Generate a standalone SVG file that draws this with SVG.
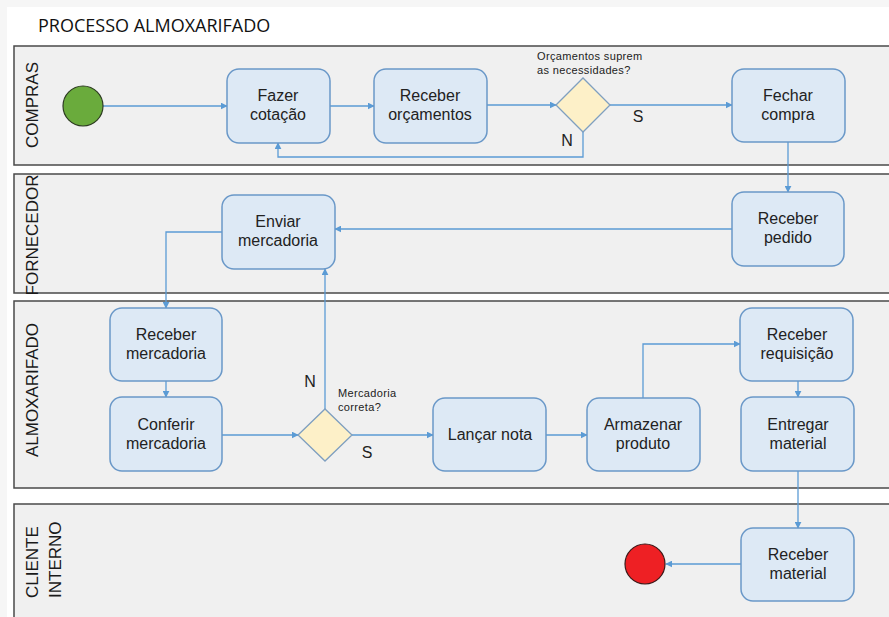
<svg xmlns="http://www.w3.org/2000/svg" width="889" height="617" viewBox="0 0 889 617">
  <style>
    .lane { fill: #f0f0f0; stroke: #4a4a4a; stroke-width: 1.5; }
    .lane-label { font-family: "Liberation Sans", Arial, sans-serif; font-size: 17px; fill: #1a1a1a; }
    .task rect { fill: #dde9f5; stroke: #6a98c8; stroke-width: 1.5; }
    .task text { font-family: "Liberation Sans", Arial, sans-serif; font-size: 16px; fill: #222; text-anchor: middle; }
    .gate polygon { fill: #fdf0c8; stroke: #7f9fc0; stroke-width: 1.3; }
    .note { font-family: "Liberation Sans", Arial, sans-serif; font-size: 11px; letter-spacing: 0.35px; fill: #222; }
    .flag { font-family: "Liberation Sans", Arial, sans-serif; font-size: 16px; fill: #222; text-anchor: middle; }
    .flow { fill: none; stroke: #5b9bd5; stroke-width: 1.3; marker-end: url(#arrow); }
  </style>
  <defs>
    <marker id="arrow" viewBox="0 0 10 10" refX="9" refY="5" markerWidth="7" markerHeight="7" orient="auto" markerUnits="userSpaceOnUse">
      <path d="M0,0 L10,5 L0,10 z" fill="#5b9bd5"/>
    </marker>
  </defs>

  <!-- page -->
  <rect x="0" y="0" width="889" height="617" fill="#f6f6f6"/>
  <rect x="7" y="7" width="882" height="610" fill="#ffffff"/>
  <text x="38" y="32" font-family="'Open Sans', 'Liberation Sans', sans-serif" font-size="18" fill="#111">PROCESSO ALMOXARIFADO</text>

  <!-- swimlanes -->
  <g id="lane-compras">
    <rect class="lane" x="14" y="46" width="880" height="119"/>
    <text class="lane-label" transform="translate(38,105) rotate(-90)" text-anchor="middle">COMPRAS</text>
  </g>
  <g id="lane-fornecedor">
    <rect class="lane" x="14" y="174" width="880" height="119"/>
    <text class="lane-label" transform="translate(38,235) rotate(-90)" text-anchor="middle">FORNECEDOR</text>
  </g>
  <g id="lane-almoxarifado">
    <rect class="lane" x="14" y="301" width="880" height="187"/>
    <text class="lane-label" transform="translate(38,390) rotate(-90)" text-anchor="middle">ALMOXARIFADO</text>
  </g>
  <g id="lane-cliente">
    <rect class="lane" x="14" y="504" width="880" height="130"/>
    <text class="lane-label" transform="translate(38,598) rotate(-90)">CLIENTE</text>
    <text class="lane-label" transform="translate(61,598) rotate(-90)">INTERNO</text>
  </g>

  <!-- connectors -->
  <g id="connectors">
    <path class="flow" d="M103,106 H227"/>
    <path class="flow" d="M330,106 H374"/>
    <path class="flow" d="M487,105 H556"/>
    <path class="flow" d="M610,105 H732"/>
    <path class="flow" d="M583,132 V157 H278 V143"/>
    <path class="flow" d="M788,142 V192"/>
    <path class="flow" d="M732,229 H335"/>
    <path class="flow" d="M222,232 H166 V308"/>
    <path class="flow" d="M166,381 V397"/>
    <path class="flow" d="M222,435 H298"/>
    <path class="flow" d="M325,409 V269"/>
    <path class="flow" d="M352,435 H433"/>
    <path class="flow" d="M546,435 H587"/>
    <path class="flow" d="M643,398 V344 H740"/>
    <path class="flow" d="M798,381 V397"/>
    <path class="flow" d="M798,471 V528"/>
    <path class="flow" d="M741,564 H666"/>
  </g>

  <!-- events -->
  <g id="start">
    <circle cx="83" cy="106" r="20" fill="#6aab3c" stroke="#2d3b22" stroke-width="1.2"/>
  </g>
  <g id="end">
    <circle cx="645" cy="564" r="20" fill="#ee2024" stroke="#3a1a1a" stroke-width="1.2"/>
  </g>

  <!-- tasks -->
  <g id="fazer-cotacao" class="task">
    <rect x="227" y="69" width="103" height="74" rx="12"/>
    <text x="278" y="101">Fazer</text>
    <text x="278" y="120">cotação</text>
  </g>
  <g id="receber-orcamentos" class="task">
    <rect x="374" y="69" width="113" height="74" rx="12"/>
    <text x="430" y="101">Receber</text>
    <text x="430" y="120">orçamentos</text>
  </g>
  <g id="gate-orcamentos" class="gate">
    <polygon points="556,105 583,78 610,105 583,132"/>
    <text class="note" x="537" y="60">Orçamentos suprem</text>
    <text class="note" x="537" y="74">as necessidades?</text>
    <text class="flag" x="638" y="122">S</text>
    <text class="flag" x="567" y="146">N</text>
  </g>
  <g id="fechar-compra" class="task">
    <rect x="732" y="69" width="113" height="73" rx="12"/>
    <text x="788" y="101">Fechar</text>
    <text x="788" y="120">compra</text>
  </g>
  <g id="receber-pedido" class="task">
    <rect x="732" y="192" width="112" height="74" rx="12"/>
    <text x="788" y="224">Receber</text>
    <text x="788" y="243">pedido</text>
  </g>
  <g id="enviar-mercadoria" class="task">
    <rect x="222" y="195" width="113" height="74" rx="12"/>
    <text x="278" y="227">Enviar</text>
    <text x="278" y="246">mercadoria</text>
  </g>
  <g id="receber-mercadoria" class="task">
    <rect x="110" y="308" width="112" height="73" rx="12"/>
    <text x="166" y="340">Receber</text>
    <text x="166" y="359">mercadoria</text>
  </g>
  <g id="conferir-mercadoria" class="task">
    <rect x="110" y="397" width="112" height="74" rx="12"/>
    <text x="166" y="430">Conferir</text>
    <text x="166" y="449">mercadoria</text>
  </g>
  <g id="gate-mercadoria" class="gate">
    <polygon points="298,435 325,409 352,435 325,461"/>
    <text class="note" x="338" y="397">Mercadoria</text>
    <text class="note" x="338" y="411">correta?</text>
    <text class="flag" x="310" y="387">N</text>
    <text class="flag" x="367" y="458">S</text>
  </g>
  <g id="lancar-nota" class="task">
    <rect x="433" y="398" width="113" height="73" rx="12"/>
    <text x="490" y="440">Lançar nota</text>
  </g>
  <g id="armazenar-produto" class="task">
    <rect x="587" y="398" width="113" height="73" rx="12"/>
    <text x="643" y="430">Armazenar</text>
    <text x="643" y="449">produto</text>
  </g>
  <g id="receber-requisicao" class="task">
    <rect x="740" y="308" width="113" height="73" rx="12"/>
    <text x="797" y="340">Receber</text>
    <text x="797" y="359">requisição</text>
  </g>
  <g id="entregar-material" class="task">
    <rect x="741" y="397" width="113" height="74" rx="12"/>
    <text x="798" y="430">Entregar</text>
    <text x="798" y="449">material</text>
  </g>
  <g id="receber-material" class="task">
    <rect x="741" y="528" width="113" height="73" rx="12"/>
    <text x="798" y="560">Receber</text>
    <text x="798" y="579">material</text>
  </g>
</svg>
